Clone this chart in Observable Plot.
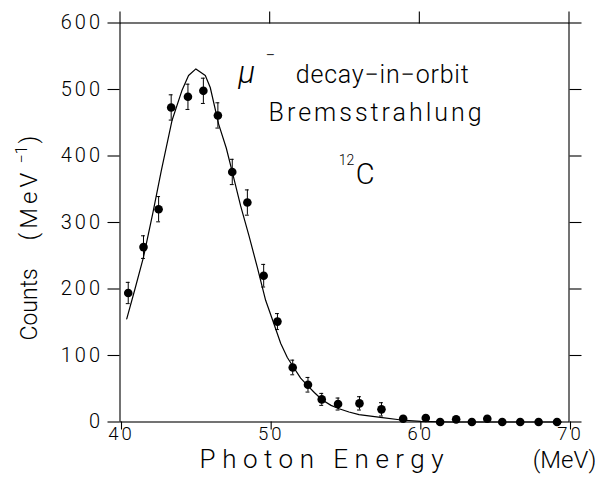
<!DOCTYPE html>
<html>
<head>
<meta charset="utf-8">
<script src="https://cdn.jsdelivr.net/npm/d3@7"></script>
<script src="https://cdn.jsdelivr.net/npm/@observablehq/plot@0.6"></script>
<style>
  body { margin: 0; background: white; }
  g[aria-label="y-axis tick label"] { letter-spacing: 3px; }
  g[aria-label="x-axis tick label"] { letter-spacing: 3px; }
  g[aria-description="xlabel"] { letter-spacing: 6.5px; }
  g[aria-description="brems"] { letter-spacing: 3px; }
  g[aria-description="dio"] { letter-spacing: 0.8px; }
  g[aria-description="ylab2"] { letter-spacing: 4px; }
</style>
</head>
<body>
<div id="chart"></div>
<script>
// Measured data points: photon energy (MeV), counts per MeV, error bar half-length
const energy = [40.55, 41.57, 42.58, 43.42, 44.54, 45.57, 46.54, 47.50, 48.51, 49.60, 50.52, 51.54, 52.56, 53.48, 54.57, 56.00, 57.47, 58.92, 60.43, 61.39, 62.46, 63.51, 64.54, 65.54, 66.74, 67.97, 69.20];
const counts = [194, 263, 320, 473, 489, 498, 461, 376, 330, 220, 151, 82, 56, 34, 27, 28, 19, 5, 6, 0, 4, 0, 5, 0, 0, 0, 0];
const errors = [16, 17, 19, 19, 19, 19, 19, 19, 19, 17, 12, 11, 11, 9, 9, 10, 10, 4, 4, 3, 3, 3, 3, 3, 3, 3, 3];

// Theoretical curve
const curveEnergy = [40.45, 41.0, 41.57, 42.2, 42.76, 43.47, 44.13, 44.58, 45.07, 45.7, 46.03, 46.59, 47.1, 47.5, 48.06, 48.62, 49.18, 49.73, 50.2, 50.74, 51.18, 51.52, 52.07, 52.52, 53.0, 53.52, 54.1, 54.64, 55.3, 55.97, 57.4, 58.8, 60.1, 62.0, 69.5];
const curveCounts = [155, 200, 248, 315, 378, 453, 498, 521, 531, 521, 503, 448, 412, 376, 325, 280, 232, 183, 153, 118, 97, 85, 66, 55, 44, 33, 25, 20, 15, 11, 7, 3, 1, 0, 0];

// Axis ticks
const xTicks = [40, 50, 60, 70];
const yTicks = [0, 100, 200, 300, 400, 500, 600];

const pts = energy.map((x, i) => ({x, y: counts[i], e: errors[i]}));
const curve = curveEnergy.map((x, i) => ({x, y: curveCounts[i]}));

const font = "Roboto, 'Liberation Sans', 'DejaVu Sans', sans-serif";

const chart = Plot.plot({
  width: 595,
  height: 500,
  marginLeft: 119.5,
  marginRight: 26.5,
  marginTop: 22.5,
  marginBottom: 78.5,
  style: {fontFamily: font, fontWeight: 300, color: "black", background: "white"},
  x: {domain: [40, 70]},
  y: {domain: [0, 600]},
  marks: [
    Plot.frame({stroke: "black", strokeWidth: 1.1}),
    Plot.axisY({anchor: "left", ticks: yTicks, tickSize: 12, tickPadding: 5, fontSize: 20, label: null, strokeWidth: 1.1}),
    Plot.axisY({anchor: "right", ticks: yTicks, tickSize: 12, tickFormat: () => "", label: null, strokeWidth: 1.1}),
    Plot.axisX({anchor: "bottom", ticks: xTicks, tickSize: 8, tickPadding: -3, fontSize: 18.5, label: null, dx: 1.5, strokeWidth: 1.1}),
    Plot.axisX({anchor: "top", ticks: xTicks, tickSize: 12, tickFormat: () => "", label: null, strokeWidth: 1.1}),
    Plot.line(curve, {x: "x", y: "y", stroke: "black", strokeWidth: 1.2}),
    Plot.ruleX(pts, {x: "x", y1: d => d.y - d.e, y2: d => d.y + d.e, stroke: "black", strokeWidth: 1}),
    Plot.ruleY(pts, {y: d => d.y + d.e, x1: d => d.x - 0.13, x2: d => d.x + 0.13, stroke: "black", strokeWidth: 1}),
    Plot.ruleY(pts, {y: d => d.y - d.e, x1: d => d.x - 0.13, x2: d => d.x + 0.13, stroke: "black", strokeWidth: 1}),
    Plot.dot(pts, {x: "x", y: "y", r: 4.3, fill: "black", stroke: "none"}),
    // annotations
    Plot.text(["μ"], {x: 47.9, y: 510.5, textAnchor: "start", lineAnchor: "bottom", fontSize: 31, fontStyle: "italic", fill: "black"}),
    Plot.text(["−"], {x: 50.07, y: 551, textAnchor: "middle", lineAnchor: "middle", fontSize: 17, fill: "black"}),
    Plot.text(["decay−in−orbit"], {x: 51.74, y: 510.5, textAnchor: "start", lineAnchor: "bottom", fontSize: 25, fill: "black", ariaDescription: "dio"}),
    Plot.text(["Bremsstrahlung"], {x: 49.93, y: 453, textAnchor: "start", lineAnchor: "bottom", fontSize: 25, fill: "black", ariaDescription: "brems"}),
    Plot.text(["12"], {x: 54.62, y: 393, textAnchor: "start", lineAnchor: "middle", fontSize: 14, fill: "black"}),
    Plot.text(["C"], {x: 55.75, y: 358.6, textAnchor: "start", lineAnchor: "bottom", fontSize: 29, fill: "black"}),
    // axis titles
    Plot.text(["Photon Energy"], {x: 45.32, y: -68.5, textAnchor: "start", lineAnchor: "bottom", fontSize: 26, fill: "black", ariaDescription: "xlabel"}),
    Plot.text(["(MeV)"], {x: 67.57, y: -68.5, textAnchor: "start", lineAnchor: "bottom", fontSize: 24, fill: "black"}),
    Plot.text(["Counts"], {x: 34.48, y: 122.6, textAnchor: "start", lineAnchor: "bottom", rotate: -90, fontSize: 23, fill: "black"}),
    Plot.text(["(MeV"], {x: 34.48, y: 273, textAnchor: "start", lineAnchor: "bottom", rotate: -90, fontSize: 24, fill: "black", ariaDescription: "ylab2"}),
    Plot.text(["−1"], {x: 33.81, y: 388.7, textAnchor: "start", lineAnchor: "bottom", rotate: -90, fontSize: 16, fill: "black"}),
    Plot.text([")"], {x: 34.48, y: 418.8, textAnchor: "start", lineAnchor: "bottom", rotate: -90, fontSize: 24, fill: "black"})
  ]
});
document.getElementById("chart").appendChild(chart);
</script>
</body>
</html>
